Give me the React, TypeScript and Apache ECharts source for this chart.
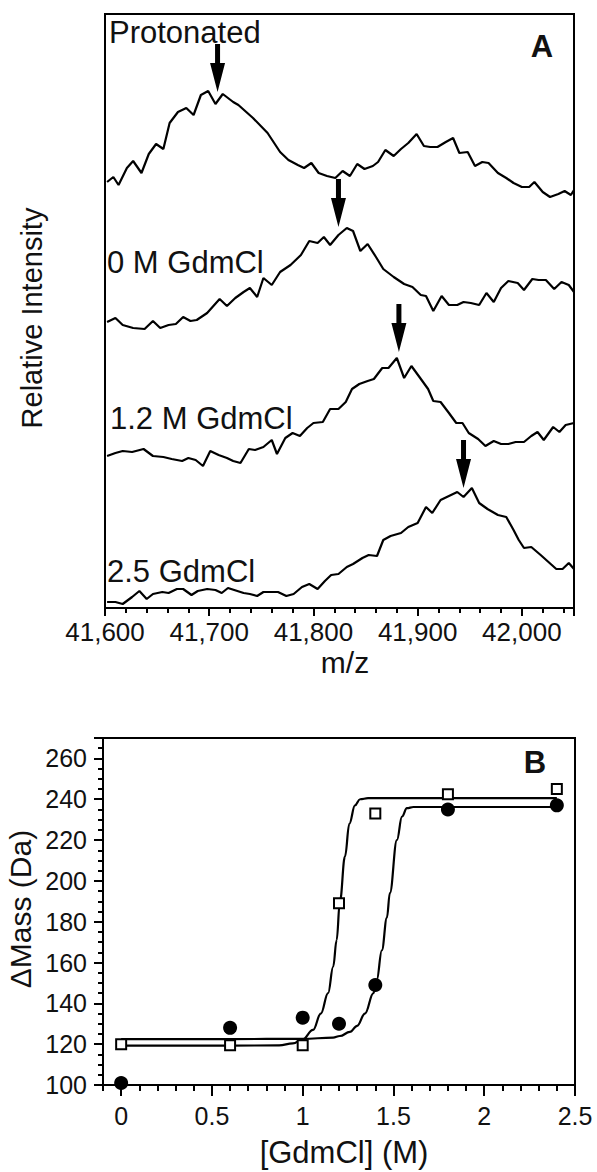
import React, { useEffect, useRef } from 'react';
import * as echarts from 'echarts';

// ---------- Panel A: mass spectra (m/z vs relative intensity, arbitrary offset units) ----------
const traceProtonated: [number, number][] = [
  [41602, 426], [41608, 431], [41613, 423], [41621, 440], [41627, 447], [41635, 435], [41642, 454],
  [41649, 464], [41656, 459], [41662, 485], [41670, 496], [41678, 500], [41685, 493], [41692, 513],
  [41699, 517], [41706, 504], [41713, 514], [41723, 506], [41728, 503], [41742, 490], [41756, 475],
  [41768, 456], [41776, 448], [41785, 443], [41791, 440], [41798, 445], [41805, 435], [41813, 432],
  [41821, 430], [41828, 437], [41835, 432], [41842, 444], [41849, 439], [41857, 442], [41862, 446],
  [41869, 458], [41877, 452], [41884, 459], [41891, 465], [41899, 474], [41906, 462], [41912, 461],
  [41919, 461], [41927, 466], [41934, 470], [41940, 455], [41948, 456], [41955, 442], [41962, 446],
  [41968, 445], [41977, 435], [41985, 430], [41992, 425], [42000, 421], [42007, 421], [42012, 426],
  [42020, 416], [42027, 411], [42035, 414], [42041, 417], [42047, 413], [42050, 418],
];
const trace0M: [number, number][] = [
  [41602, 286], [41610, 290], [41617, 283], [41627, 280], [41638, 279], [41646, 287], [41653, 280],
  [41661, 283], [41668, 284], [41675, 291], [41682, 287], [41688, 288], [41698, 295], [41710, 309],
  [41717, 302], [41725, 310], [41733, 316], [41739, 320], [41746, 311], [41752, 330], [41760, 323],
  [41768, 336], [41778, 343], [41788, 353], [41796, 367], [41804, 365], [41810, 371], [41816, 363],
  [41824, 373], [41832, 380], [41838, 377], [41845, 357], [41852, 364], [41860, 351], [41867, 339],
  [41877, 331], [41887, 324], [41895, 321], [41903, 313], [41908, 312], [41915, 297], [41923, 312],
  [41930, 303], [41938, 303], [41944, 306], [41951, 305], [41959, 303], [41966, 315], [41973, 306],
  [41980, 320], [41987, 327], [41996, 325], [42002, 318], [42010, 329], [42016, 328], [42023, 328],
  [42031, 319], [42038, 326], [42045, 323], [42050, 316],
];
const trace12M: [number, number][] = [
  [41602, 152], [41610, 155], [41617, 157], [41626, 156], [41637, 159], [41646, 152], [41656, 151],
  [41664, 149], [41674, 147], [41680, 150], [41687, 148], [41694, 142], [41701, 157], [41709, 153],
  [41717, 150], [41723, 147], [41730, 145], [41738, 159], [41744, 158], [41752, 161], [41760, 168],
  [41765, 154], [41773, 170], [41780, 175], [41787, 172], [41794, 180], [41800, 185], [41809, 186],
  [41816, 199], [41824, 199], [41831, 206], [41837, 219], [41844, 224], [41852, 227], [41858, 229],
  [41866, 240], [41872, 240], [41880, 250], [41887, 230], [41894, 242], [41901, 232], [41910, 219],
  [41915, 207], [41922, 206], [41930, 195], [41937, 185], [41943, 185], [41949, 175], [41958, 169],
  [41965, 162], [41973, 167], [41980, 164], [41987, 164], [41994, 166], [42002, 166], [42009, 172],
  [42015, 176], [42021, 168], [42030, 181], [42036, 176], [42042, 183], [42050, 185],
];
const trace25M: [number, number][] = [
  [41602, 6], [41610, 6], [41617, 4], [41626, 11], [41633, 17], [41640, 9], [41646, 14],
  [41655, 16], [41661, 15], [41669, 19], [41675, 19], [41683, 13], [41689, 17], [41698, 19],
  [41706, 18], [41712, 15], [41718, 20], [41727, 17], [41733, 15], [41739, 14], [41746, 12],
  [41752, 16], [41761, 16], [41766, 16], [41774, 12], [41781, 14], [41789, 21], [41796, 24],
  [41804, 19], [41811, 27], [41817, 33], [41824, 34], [41832, 41], [41838, 44], [41847, 50],
  [41853, 53], [41861, 52], [41867, 68], [41874, 72], [41884, 75], [41891, 81], [41900, 85],
  [41908, 101], [41914, 95], [41922, 108], [41930, 112], [41938, 116], [41944, 111], [41952, 120],
  [41959, 105], [41967, 99], [41977, 93], [41985, 91], [41992, 78], [41997, 68], [42002, 60],
  [42009, 61], [42018, 53], [42033, 39], [42039, 39], [42045, 45], [42050, 39],
];
const traceLabels = ['Protonated', '0 M GdmCl', '1.2 M GdmCl', '2.5 GdmCl'];
const arrowX = [41708, 41824, 41882, 41944];
const arrowTipY = [516, 381, 256, 120];
const mzTicks = [41600, 41700, 41800, 41900, 42000];

// ---------- Panel B: ΔMass vs [GdmCl] ----------
const gdmcl = [0, 0.6, 1.0, 1.2, 1.4, 1.8, 2.4];
const massCircles = [101, 128, 133, 130, 149, 235, 237];
const massSquares = [120, 119.5, 119.5, 189, 233, 242.5, 245];
const fitSquaresX = [0, 0.6, 0.87, 0.946, 1.0, 1.057, 1.1, 1.14, 1.168, 1.187, 1.205, 1.233, 1.257, 1.288, 1.316, 1.36, 1.8, 2.4];
const fitSquaresY = [119.3, 119.3, 119.4, 120.4, 122.4, 127, 135, 145, 158, 171, 190, 212, 228, 237, 240, 240.5, 240.5, 240.5];
const fitCirclesX = [0, 0.6, 1.0, 1.167, 1.205, 1.26, 1.3, 1.343, 1.39, 1.408, 1.436, 1.464, 1.48, 1.519, 1.547, 1.574, 1.61, 1.8, 2.4];
const fitCirclesY = [122.5, 122.5, 122.6, 123.2, 124, 126, 129, 135, 145, 151.5, 166, 182, 194, 220, 231.5, 235.6, 236.2, 236.2, 236.2];
const gdmclTicks = [0, 0.5, 1, 1.5, 2, 2.5];

const FONT = '"Liberation Sans", Arial, Helvetica, sans-serif';
const INK = '#111';

const zip = (xs: number[], ys: number[]) => xs.map((x, i) => [x, ys[i]]);
const commaFmt = (v: number) => String(v).replace(/\B(?=(\d{3})+(?!\d))/g, ',');

export default function App() {
  const ref = useRef<HTMLDivElement>(null);
  useEffect(() => {
    if (!ref.current) return;
    const chart = echarts.init(ref.current, undefined, { renderer: 'svg' });
    const lineOn = () => ({ show: true, onZero: false, lineStyle: { color: '#000', width: 2 } });
    const lineOff = () => ({ show: false, onZero: false });
    const tick = (length: number, extra: any = {}) => ({
      show: true, length, lineStyle: { color: '#000', width: 2 }, ...extra,
    });
    const traceStyle = { color: '#000', width: 2.2 };
    const arrowPath = 'path://M5,0 L10,0 L10,19 L15,19 L7.5,48 L0,19 L5,19 Z';

    // x tick labels placed through the axis scale (custom series of texts)
    const xLabelSeries = (values: number[], base: number, xi: number, yi: number, offset: number,
      fmt: (v: number) => string, size: number) => ({
      type: 'custom', xAxisIndex: xi, yAxisIndex: yi, silent: true, clip: false, z: 2,
      data: values.map((v) => [v, base]),
      renderItem: (_p: any, api: any) => {
        const pt = api.coord([api.value(0), api.value(1)]);
        return {
          type: 'text',
          x: pt[0],
          y: pt[1] + offset,
          style: {
            text: fmt(api.value(0)), fontSize: size, fontFamily: FONT, fill: INK,
            align: 'center', verticalAlign: 'top',
          },
        };
      },
    });

    // tick strips: thin helper grids right under each plot, axis on their top edge, ticks pointing down
    const tickAxis = (gridIndex: number, min: number, max: number, length: number, extra: any = {}) => ({
      gridIndex, type: 'value', min, max, position: 'top', z: 10,
      axisLine: lineOff(), axisTick: tick(length, { inside: true, ...(extra.tick || {}) }),
      axisLabel: { show: false }, splitLine: { show: false },
      ...(extra.axis || {}),
    });

    const text = (t: string, x: number, y: number, size: number, extra: any = {}) => ({
      type: 'text',
      x,
      y,
      rotation: extra.rotation || 0,
      style: {
        text: t,
        fontSize: size,
        fontFamily: FONT,
        fontWeight: extra.bold ? 'bold' : 'normal',
        fill: INK,
        align: extra.align || 'left',
        verticalAlign: 'middle',
      },
    });

    const option: any = {
      animation: false,
      backgroundColor: '#fff',
      grid: [
        { left: 105, top: 14, width: 469, height: 594, show: true, borderColor: '#000', borderWidth: 2 },
        { left: 103, top: 738, width: 472, height: 347, show: true, borderColor: '#000', borderWidth: 2 },
        { left: 105, top: 608, width: 469, height: 14, show: false },
        { left: 103, top: 1085, width: 472, height: 14, show: false },
      ],
      xAxis: [
        {
          gridIndex: 0, type: 'value', min: 41600, max: 42050, interval: 100, position: 'bottom',
          axisLine: lineOn(), axisTick: { show: false }, axisLabel: { show: false }, splitLine: { show: false },
        },
        {
          gridIndex: 1, type: 'value', min: -0.1, max: 2.5, interval: 0.1, position: 'bottom',
          axisLine: lineOn(), axisTick: { show: false }, axisLabel: { show: false }, splitLine: { show: false },
        },
        tickAxis(2, 41600, 42050, 8, { axis: { interval: 100 } }),
        tickAxis(2, 41600, 42050, 5, { axis: { interval: 20 } }),
        tickAxis(3, -0.1, 2.5, 11, { tick: { customValues: gdmclTicks } }),
        tickAxis(3, -0.1, 2.5, 6, { axis: { interval: 0.1 } }),
      ],
      yAxis: [
        {
          gridIndex: 0, type: 'value', min: 0, max: 594, position: 'left',
          axisLine: lineOn(), axisTick: { show: false }, axisLabel: { show: false }, splitLine: { show: false },
        },
        {
          gridIndex: 1, type: 'value', min: 100, max: 270, interval: 20, position: 'left',
          axisLine: lineOn(), axisTick: tick(9),
          axisLabel: {
            fontSize: 25, fontFamily: FONT, color: INK, margin: 16,
            formatter: (v: number) => (v % 20 === 0 ? String(v) : ''),
          },
          splitLine: { show: false },
        },
        {
          gridIndex: 1, type: 'value', min: 100, max: 270, interval: 5, position: 'left',
          axisLine: lineOff(), axisTick: tick(5), axisLabel: { show: false }, splitLine: { show: false },
        },
        {
          gridIndex: 2, type: 'value', min: 0, max: 1, position: 'left',
          axisLine: lineOff(), axisTick: { show: false }, axisLabel: { show: false }, splitLine: { show: false },
        },
        {
          gridIndex: 3, type: 'value', min: 0, max: 1, position: 'left',
          axisLine: lineOff(), axisTick: { show: false }, axisLabel: { show: false }, splitLine: { show: false },
        },
      ],
      series: [
        ...[traceProtonated, trace0M, trace12M, trace25M].map((d, i) => ({
          name: traceLabels[i], type: 'line', xAxisIndex: 0, yAxisIndex: 0, data: d,
          symbol: 'none', showSymbol: false, lineStyle: traceStyle, silent: true, z: 2,
        })),
        {
          name: 'peaks', type: 'scatter', xAxisIndex: 0, yAxisIndex: 0,
          data: zip(arrowX, arrowTipY), symbol: arrowPath, symbolSize: [15, 48], symbolOffset: [0, -24],
          itemStyle: { color: '#000', opacity: 1 }, silent: true, z: 3,
        },
        xLabelSeries(mzTicks, 0, 0, 0, 11, commaFmt, 26),
        {
          name: 'fit squares', type: 'line', xAxisIndex: 1, yAxisIndex: 1, data: zip(fitSquaresX, fitSquaresY),
          symbol: 'none', smooth: 0.4, smoothMonotone: 'x', lineStyle: traceStyle, silent: true, z: 2,
        },
        {
          name: 'fit circles', type: 'line', xAxisIndex: 1, yAxisIndex: 1, data: zip(fitCirclesX, fitCirclesY),
          symbol: 'none', smooth: 0.4, smoothMonotone: 'x', lineStyle: traceStyle, silent: true, z: 2,
        },
        {
          name: 'circles', type: 'scatter', xAxisIndex: 1, yAxisIndex: 1, data: zip(gdmcl, massCircles),
          symbol: 'circle', symbolSize: 14, itemStyle: { color: '#000', opacity: 1 }, silent: true, z: 4,
        },
        {
          name: 'squares', type: 'scatter', xAxisIndex: 1, yAxisIndex: 1, data: zip(gdmcl, massSquares),
          symbol: 'rect', symbolSize: 10,
          itemStyle: { color: '#fff', borderColor: '#000', borderWidth: 2, opacity: 1 },
          silent: true, z: 4,
        },
        xLabelSeries(gdmclTicks, 100, 1, 1, 18, (v: number) => String(v), 25),
      ],
      graphic: [
        text(traceLabels[0], 109, 32, 31),
        text(traceLabels[1], 107, 262, 31),
        text(traceLabels[2], 110, 418, 31),
        text(traceLabels[3], 107, 571, 31),
        text('A', 542, 46, 31, { bold: true, align: 'center' }),
        text('m/z', 345, 662, 30, { align: 'center' }),
        text('Relative Intensity', 32, 318, 29, { align: 'center', rotation: Math.PI / 2 }),
        text('B', 535, 762, 31, { bold: true, align: 'center' }),
        text('[GdmCl] (M)', 344, 1152, 31, { align: 'center' }),
        text('ΔMass (Da)', 20, 909, 30, { align: 'center', rotation: Math.PI / 2 }),
      ],
    };
    chart.setOption(option);
    return () => chart.dispose();
  }, []);
  return (
    <div
      ref={ref}
      style={{ position: 'fixed', left: 0, top: 0, width: 597, height: 1172, background: '#fff' }}
    />
  );
}
